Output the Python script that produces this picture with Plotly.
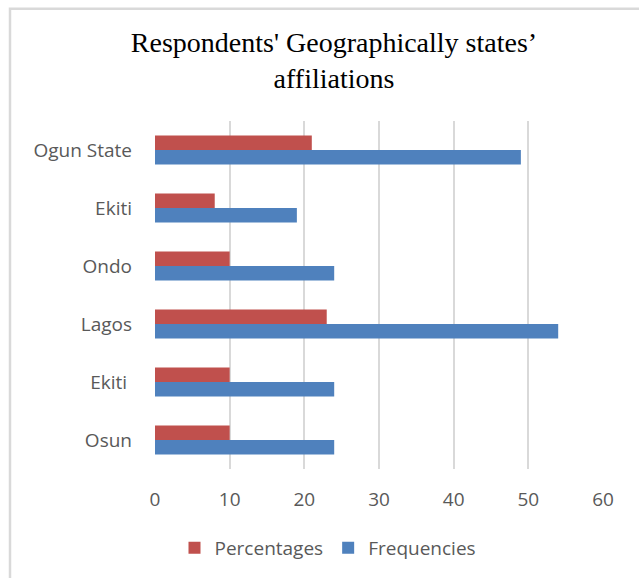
import plotly.graph_objects as go

# Data (bottom to top, as drawn on the category axis)
states = ["Osun", "Ekiti\u00a0", "Lagos", "Ondo", "Ekiti", "Ogun State"]
percentages = [10, 10, 23, 10, 8, 21]
frequencies = [24, 24, 54, 24, 19, 49]
x_ticks = [0, 10, 20, 30, 40, 50, 60]

title_text = "Respondents' Geographically states’<br>affiliations"

RED = "#C0504D"
BLUE = "#4F81BD"
GRID = "#D9D9D9"
TXT = "#595959"

fig = go.Figure()
fig.add_trace(go.Bar(
    y=states, x=frequencies, name="Frequencies", orientation="h",
    marker=dict(color=BLUE, line=dict(width=0)),
))
fig.add_trace(go.Bar(
    y=states, x=percentages, name="Percentages", orientation="h",
    marker=dict(color=RED, line=dict(width=0)),
))

W, H = 639, 578
L, R, T, B = 155, 36, 121, 108
pw, ph = W - L - R, H - T - B

def px_x(x):
    return (x - L) / pw

def px_y(y):
    return 1 - (y - T) / ph

fig.update_layout(
    width=W, height=H,
    margin=dict(l=L, r=R, t=T, b=B, pad=0),
    paper_bgcolor="white", plot_bgcolor="white",
    barmode="group", bargap=0.5, bargroupgap=0,
    title=dict(
        text=title_text,
        font=dict(family="Liberation Serif", size=28, color="#000000"),
        x=px_x(334), xref="paper", xanchor="center",
        y=1 - 52 / H, yref="container", yanchor="top",
    ),
    xaxis=dict(
        range=[0, 60], tickvals=x_ticks, ticktext=[str(v) for v in x_ticks],
        showgrid=True, gridcolor=GRID, gridwidth=2,
        zeroline=False, showline=False, ticks="",
        tickfont=dict(family="Open Sans", size=19, color=TXT),
        ticklabelstandoff=17,
        fixedrange=True,
    ),
    yaxis=dict(
        type="category", categoryorder="array", categoryarray=states,
        showgrid=False, zeroline=False, showline=False, ticks="",
        tickfont=dict(family="Open Sans", size=19, color=TXT),
        ticklabelstandoff=22,
        fixedrange=True,
    ),
    legend=dict(
        orientation="h", traceorder="reversed",
        x=px_x(328), xanchor="center", y=px_y(548), yanchor="middle",
        font=dict(family="Open Sans", size=19, color=TXT),
        itemwidth=30, bgcolor="rgba(0,0,0,0)",
    ),
    showlegend=True,
    shapes=[
        dict(type="rect", xref="paper", yref="paper", layer="above",
             x0=px_x(10), x1=px_x(700), y0=px_y(700), y1=px_y(8.5),
             line=dict(color=GRID, width=2.5), fillcolor="rgba(0,0,0,0)"),
    ],
)

fig.write_html("out.html", config={"displayModeBar": False})
